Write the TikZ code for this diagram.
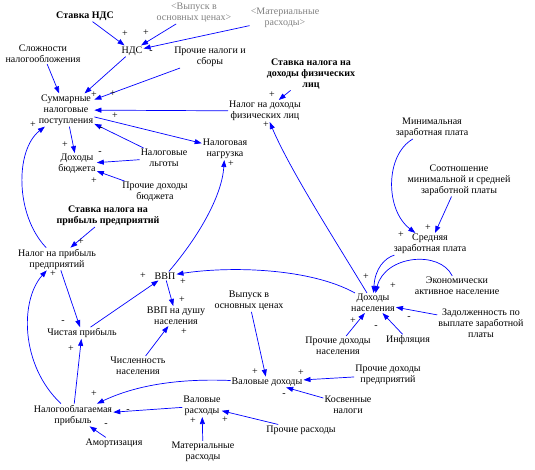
\documentclass[tikz,border=0pt]{standalone}
\usepackage{fontspec}
\setmainfont{Liberation Serif}
\usetikzlibrary{arrows.meta}
\definecolor{lnk}{RGB}{0,0,255}
\definecolor{shadowtxt}{RGB}{128,128,128}
\tikzset{
  var/.style={font=\fontsize{10}{11}\selectfont, align=center, inner sep=1pt},
  bvar/.style={var, font=\fontsize{10}{11}\selectfont\bfseries},
  gvar/.style={var, text=shadowtxt},
  link/.style={draw=lnk, line width=0.7pt, -{Triangle[length=7pt,width=5pt]}},
  sgn/.style={font=\fontsize{10}{10}\selectfont, inner sep=0pt},
}
\begin{document}
\begin{tikzpicture}[x=1pt,y=-1pt]
\useasboundingbox (0,0) rectangle (535,470);
% variables
\node[bvar] (stNDS) at (85,16) {Ставка НДС};
\node[gvar] (vyp0) at (194,13) {<Выпуск в\\основных ценах>};
\node[gvar] (mat0) at (285,18) {<Материальные\\расходы>};
\node[var] (nds) at (132,51) {НДС};
\node[var] (proch) at (210,57) {Прочие налоги и\\сборы};
\node[var] (slozh) at (43,54) {Сложности\\налогообложения};
\node[var] (summ) at (66,110) {Суммарные\\налоговые\\поступления};
\node[bvar] (stNDFL) at (311,74) {Ставка налога на\\доходы физических\\лиц};
\node[var] (ndfl) at (265,111) {Налог на доходы\\физических лиц};
\node[var] (dohb) at (77,164) {Доходы\\бюджета};
\node[var] (lgoty) at (164,158) {Налоговые\\льготы};
\node[var] (prochb) at (155,192) {Прочие доходы\\бюджета};
\node[var] (nagr) at (225,149) {Налоговая\\нагрузка};
\node[var] (minzp) at (432,128) {Минимальная\\заработная плата};
\node[var] (sootn) at (459,180) {Соотношение\\минимальной и средней\\заработной платы};
\node[var] (srzp) at (430,244) {Средняя\\заработная плата};
\node[bvar] (stNP) at (108,216) {Ставка налога на\\прибыль предприятий};
\node[var] (np) at (57,259) {Налог на прибыль\\предприятий};
\node[var] (vvp) at (165,276) {ВВП};
\node[var] (vvpd) at (176,316) {ВВП на душу\\населения};
\node[var] (chist) at (82,333) {Чистая прибыль};
\node[var] (vyp) at (249,301) {Выпуск в\\основных ценах};
\node[var] (chisl) at (138,366) {Численность\\населения};
\node[var] (nob) at (73,415) {Налогооблагаемая\\прибыль};
\node[var] (amort) at (114,443) {Амортизация};
\node[var] (vald) at (267,382) {Валовые доходы};
\node[var] (valr) at (202,406) {Валовые\\расходы};
\node[var] (mat) at (203,452) {Материальные\\расходы};
\node[var] (prochr) at (301,430) {Прочие расходы};
\node[var] (kosv) at (348,405) {Косвенные\\налоги};
\node[var] (prochp) at (388,375) {Прочие доходы\\предприятий};
\node[var] (econ) at (457,286) {Экономически\\активное население};
\node[var] (dohn) at (373,303) {Доходы\\населения};
\node[var] (zad) at (481,323) {Задолженность по\\выплате заработной\\платы};
\node[var] (infl) at (408,340) {Инфляция};
\node[var] (prochn) at (338,346) {Прочие доходы\\населения};
% links
\draw[link] (stNDS) -- (nds);
\draw[link] (vyp0) -- (nds);
\draw[link] (mat0) -- (nds);
\draw[link] (nds) -- (summ);
\draw[link] (slozh) -- (summ);
\draw[link] (proch) -- (summ);
\draw[link] (ndfl) -- (summ);
\draw[link] (stNDFL) -- (ndfl);
\draw[link] (lgoty) -- (summ);
\draw[link] (summ) -- (nagr);
\draw[link] (summ) -- (dohb);
\draw[link] (lgoty) -- (dohb);
\draw[link] (prochb) -- (dohb);
\draw[link] (dohn) .. controls (335,240) and (290,170) .. (ndfl);
\draw[link] (dohn) .. controls (310,268) and (230,266) .. (vvp);
\draw[link] (vvp) .. controls (200,235) and (222,195) .. (nagr);
\draw[link] (vvp) -- (vvpd);
\draw[link] (chisl) -- (vvpd);
\draw[link] (np) -- (chist);
\draw[link] (chist) -- (vvp);
\draw[link] (stNP) -- (np);
\draw[link] (nob) .. controls (20,365) and (20,300) .. (np);
\draw[link] (np) .. controls (15,215) and (15,150) .. (summ);
\draw[link] (nob) -- (chist);
\draw[link] (vald) .. controls (170,378) and (130,388) .. (nob);
\draw[link] (valr) -- (nob);
\draw[link] (amort) -- (nob);
\draw[link] (vyp) -- (vald);
\draw[link] (prochp) -- (vald);
\draw[link] (kosv) -- (vald);
\draw[link] (mat) -- (valr);
\draw[link] (prochr) -- (valr);
\draw[link] (srzp) .. controls (385,258) and (375,268) .. (dohn);
\draw[link] (econ) .. controls (440,250) and (385,255) .. (dohn);
\draw[link] (zad) -- (dohn);
\draw[link] (infl) -- (dohn);
\draw[link] (prochn) -- (dohn);
\draw[link] (minzp) .. controls (385,155) and (385,210) .. (srzp);
\draw[link] (sootn) -- (srzp);
% polarity signs
\node[sgn] (p1) at (125,34) {+};
\node[sgn] (p2) at (146,33) {+};
\node[sgn] (p3) at (151,52) {-};
\node[sgn] (p4) at (94,95) {+};
\node[sgn] (p6) at (113,94) {+};
\node[sgn] (p7) at (115,116) {+};
\node[sgn] (p8) at (272,95) {+};
\node[sgn] (p9) at (101,129) {-};
\node[sgn] (p11) at (65,145) {+};
\node[sgn] (p12) at (100,153) {-};
\node[sgn] (p13) at (94,181) {+};
\node[sgn] (p14) at (266,125) {+};
\node[sgn] (p15) at (183,282) {+};
\node[sgn] (p16) at (231,164) {+};
\node[sgn] (p17) at (182,300) {+};
\node[sgn] (p18) at (184,332) {+};
\node[sgn] (p19) at (63,322) {-};
\node[sgn] (p20) at (143,276) {+};
\node[sgn] (p21) at (81,242) {+};
\node[sgn] (p22) at (53,274) {+};
\node[sgn] (p23) at (33,125) {+};
\node[sgn] (p24) at (71,349) {+};
\node[sgn] (p25) at (94,394) {+};
\node[sgn] (p26) at (128,411) {-};
\node[sgn] (p27) at (106,425) {-};
\node[sgn] (p28) at (255,372) {+};
\node[sgn] (p29) at (301,373) {+};
\node[sgn] (p30) at (284,395) {-};
\node[sgn] (p31) at (193,421) {+};
\node[sgn] (p32) at (225,420) {+};
\node[sgn] (p33) at (366,277) {+};
\node[sgn] (p34) at (393,286) {+};
\node[sgn] (p35) at (409,318) {-};
\node[sgn] (p36) at (376,327) {-};
\node[sgn] (p37) at (353,321) {+};
\node[sgn] (p38) at (401,235) {+};
\node[sgn] (p39) at (428,228) {+};
\end{tikzpicture}
\end{document}
